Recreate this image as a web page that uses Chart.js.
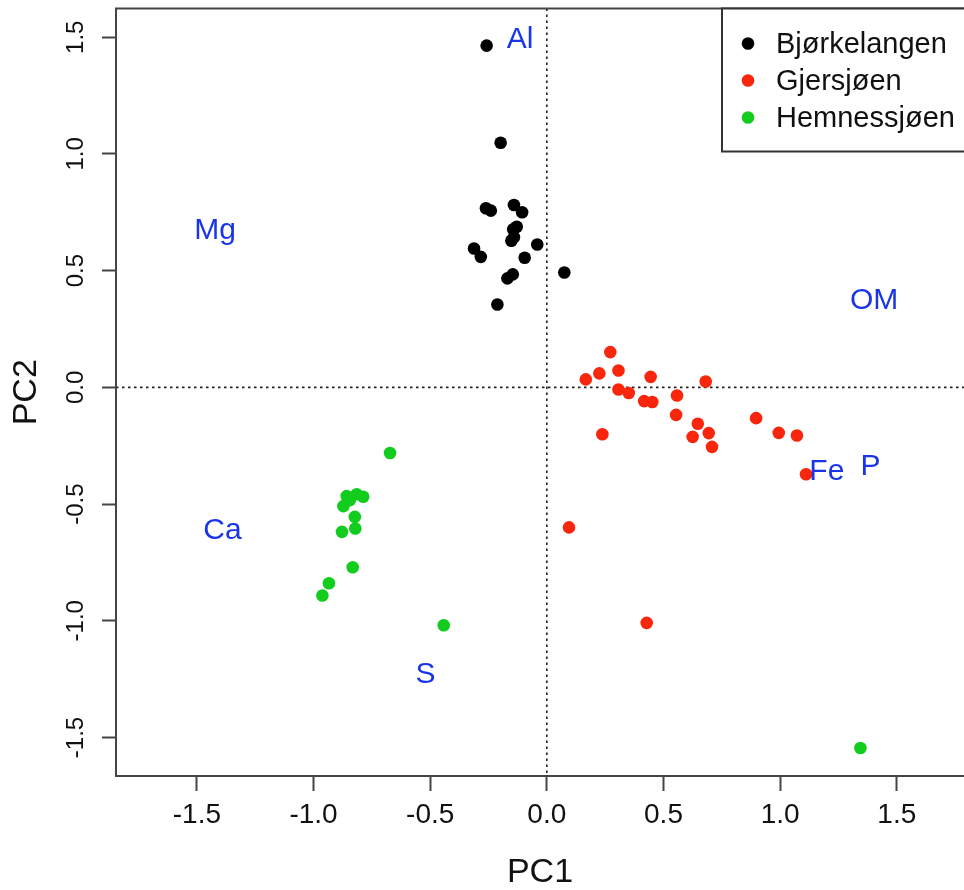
<!DOCTYPE html>
<html>
<head>
<meta charset="utf-8">
<title>PCA scores</title>
<script src="https://cdn.jsdelivr.net/npm/chart.js@4.4.1/dist/chart.umd.min.js"></script>
<style>
  html, body { margin: 0; padding: 0; background: #fff; }
  canvas { display: block; }
</style>
</head>
<body>
<canvas id="pcaChart" width="964" height="890"></canvas>
<script>
// PC scores per lake
const bjorkX = [-0.258, -0.198, -0.261, -0.240, -0.141, -0.106, -0.129, -0.144, -0.141, -0.152, -0.041, -0.312, -0.283, -0.095, 0.075, -0.146, -0.169, -0.212];
const bjorkY = [1.464, 1.048, 0.767, 0.757, 0.781, 0.750, 0.688, 0.677, 0.643, 0.628, 0.612, 0.595, 0.559, 0.555, 0.492, 0.484, 0.467, 0.355];

const gjersX = [0.167, 0.225, 0.272, 0.307, 0.307, 0.351, 0.445, 0.417, 0.452, 0.238, 0.558, 0.554, 0.681, 0.647, 0.625, 0.694, 0.708, 0.897, 0.994, 1.072, 1.111, 0.095, 0.428];
const gjersY = [0.034, 0.060, 0.151, 0.072, -0.009, -0.024, 0.045, -0.059, -0.063, -0.201, -0.035, -0.118, 0.025, -0.156, -0.212, -0.196, -0.255, -0.132, -0.195, -0.206, -0.372, -0.600, -1.009];

const hemnX = [-0.672, -0.858, -0.815, -0.787, -0.844, -0.872, -0.823, -0.821, -0.878, -0.832, -0.934, -0.962, -0.442, 1.344];
const hemnY = [-0.281, -0.466, -0.458, -0.469, -0.483, -0.509, -0.555, -0.605, -0.619, -0.771, -0.839, -0.892, -1.019, -1.545];

// variable labels (loadings) placed in score space
const varNames = ['Al', 'Mg', 'OM', 'Fe', 'P', 'Ca', 'S'];
const varX = [-0.115, -1.422, 1.403, 1.200, 1.387, -1.390, -0.520];
const varY = [1.490, 0.673, 0.373, -0.360, -0.338, -0.613, -1.233];

const seriesNames = ['Bjørkelangen', 'Gjersjøen', 'Hemnessjøen'];
const seriesColors = ['#000000', '#f8260c', '#12cc1e'];

const xTicks = [-1.5, -1.0, -0.5, 0.0, 0.5, 1.0, 1.5];
const yTicks = [-1.5, -1.0, -0.5, 0.0, 0.5, 1.0, 1.5];

const FONT = '"Liberation Sans", Arial, Helvetica, sans-serif';

function pts(xs, ys) {
  return xs.map((x, i) => ({ x: x, y: ys[i] }));
}

// box round the plot, dotted zero lines, variable labels, legend
const overlay = {
  id: 'overlay',
  beforeDatasetsDraw(chart) {
    const { ctx, chartArea: a, scales: { x, y } } = chart;
    ctx.save();
    ctx.strokeStyle = '#222';
    ctx.lineWidth = 1.6;
    ctx.setLineDash([2.5, 3.5]);
    const x0 = x.getPixelForValue(0);
    const y0 = y.getPixelForValue(0);
    ctx.beginPath();
    ctx.moveTo(x0, a.top); ctx.lineTo(x0, a.bottom);
    ctx.moveTo(a.left, y0); ctx.lineTo(a.right, y0);
    ctx.stroke();
    ctx.restore();
  },
  afterDatasetsDraw(chart) {
    const { ctx, chartArea: a, scales: { x, y } } = chart;
    ctx.save();

    // variable names
    ctx.fillStyle = '#1a35e8';
    ctx.font = '30px ' + FONT;
    ctx.textAlign = 'center';
    ctx.textBaseline = 'middle';
    varNames.forEach((n, i) => {
      ctx.fillText(n, x.getPixelForValue(varX[i]), y.getPixelForValue(varY[i]));
    });

    // frame
    ctx.strokeStyle = '#444';
    ctx.lineWidth = 2;
    ctx.strokeRect(a.left, a.top, a.right - a.left + 2, a.bottom - a.top);

    // legend
    const lx = a.right - 242, ly = a.top;
    ctx.fillStyle = '#fff';
    ctx.fillRect(lx, ly, 250, 143);
    ctx.strokeStyle = '#333';
    ctx.lineWidth = 2;
    ctx.strokeRect(lx, ly, 250, 143);
    ctx.font = '29px ' + FONT;
    ctx.textAlign = 'left';
    chart.data.datasets.forEach((ds, i) => {
      const cy = ly + 35 + i * 37;
      ctx.fillStyle = ds.backgroundColor;
      ctx.beginPath();
      ctx.arc(lx + 26, cy, 6.3, 0, Math.PI * 2);
      ctx.fill();
      ctx.fillStyle = '#111';
      ctx.fillText(ds.label, lx + 54, cy + 1);
    });
    ctx.restore();
  }
};

new Chart(document.getElementById('pcaChart'), {
  type: 'scatter',
  data: {
    datasets: [
      { label: seriesNames[0], data: pts(bjorkX, bjorkY), backgroundColor: seriesColors[0] },
      { label: seriesNames[1], data: pts(gjersX, gjersY), backgroundColor: seriesColors[1] },
      { label: seriesNames[2], data: pts(hemnX, hemnY), backgroundColor: seriesColors[2] }
    ]
  },
  options: {
    responsive: false,
    animation: false,
    layout: { autoPadding: false, padding: { top: 8.5, right: 0, bottom: 0, left: 0 } },
    elements: { point: { radius: 6.3, borderWidth: 0, hoverRadius: 6.3 } },
    plugins: { legend: { display: false }, tooltip: { enabled: false } },
    scales: {
      x: {
        type: 'linear',
        min: -1.8466,
        max: 1.788,
        afterFit(s) {
          s.height = 114;
          s.paddingLeft = 0;
          s.paddingRight = 0;
        },
        afterBuildTicks(s) { s.ticks = xTicks.map(v => ({ value: v })); },
        border: { display: false },
        grid: { drawOnChartArea: false, drawTicks: true, tickLength: 15, tickColor: '#444', tickWidth: 2 },
        ticks: {
          color: '#111',
          padding: 7,
          maxRotation: 0,
          font: { family: FONT, size: 28 },
          callback: v => v.toFixed(1)
        },
        title: {
          display: true,
          text: 'PC1',
          color: '#111',
          font: { family: FONT, size: 34, lineHeight: 1 },
          padding: 0
        }
      },
      y: {
        type: 'linear',
        min: -1.665,
        max: 1.623,
        afterFit(s) {
          s.width = 116;
          s.paddingTop = 0;
          s.paddingBottom = 0;
        },
        afterBuildTicks(s) { s.ticks = yTicks.map(v => ({ value: v })); },
        border: { display: false },
        grid: { drawOnChartArea: false, drawTicks: true, tickLength: 14, tickColor: '#444', tickWidth: 2 },
        ticks: {
          color: '#111',
          padding: 5,
          minRotation: 90,
          maxRotation: 90,
          crossAlign: 'center',
          font: { family: FONT, size: 24 },
          callback: v => v.toFixed(1)
        },
        title: {
          display: true,
          text: 'PC2',
          color: '#111',
          font: { family: FONT, size: 34, lineHeight: 1 },
          padding: { top: 10, bottom: 0 }
        }
      }
    }
  },
  plugins: [overlay]
});
</script>
</body>
</html>
